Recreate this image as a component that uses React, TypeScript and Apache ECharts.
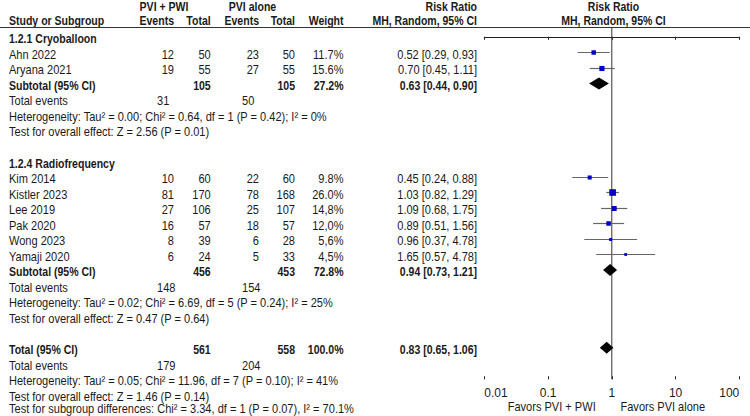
import React, { useEffect, useRef } from "react";
import * as echarts from "echarts";

// ---------- DATA ----------
const groupNames = ["1.2.1 Cryoballoon", "1.2.4 Radiofrequency"];
const studyNames = ["Ahn 2022", "Aryana 2021", "Kim 2014", "Kistler 2023", "Lee 2019", "Pak 2020", "Wong 2023", "Yamaji 2020"];
const studyGroup = [0, 0, 1, 1, 1, 1, 1, 1];
const eventsPWI = [12, 19, 10, 81, 27, 16, 8, 6];
const totalPWI = [50, 55, 60, 170, 106, 57, 39, 24];
const eventsAlone = [23, 27, 22, 78, 25, 18, 6, 5];
const totalAlone = [50, 55, 60, 168, 107, 57, 28, 33];
const weights = [11.7, 15.6, 9.8, 26.0, 14.8, 12.0, 5.6, 4.5];
const weightLabels = ["11.7%", "15.6%", "9.8%", "26.0%", "14,8%", "12,0%", "5,6%", "4,5%"];
const riskRatio = [0.52, 0.7, 0.45, 1.03, 1.09, 0.89, 0.96, 1.65];
const ciLow = [0.29, 0.45, 0.24, 0.82, 0.68, 0.51, 0.37, 0.57];
const ciHigh = [0.93, 1.11, 0.88, 1.29, 1.75, 1.56, 2.49, 4.78];
const ciLabels = ["0.52 [0.29, 0.93]", "0.70 [0.45, 1.11]", "0.45 [0.24, 0.88]", "1.03 [0.82, 1.29]", "1.09 [0.68, 1.75]", "0.89 [0.51, 1.56]", "0.96 [0.37, 4.78]", "1.65 [0.57, 4.78]"];

const subRR = [0.63, 0.94];
const subLow = [0.44, 0.73];
const subHigh = [0.9, 1.21];
const subLabels = ["0.63 [0.44, 0.90]", "0.94 [0.73, 1.21]"];
const subTotalPWI = [105, 456];
const subTotalAlone = [105, 453];
const subWeight = ["27.2%", "72.8%"];
const subEventsPWI = [31, 148];
const subEventsAlone = [50, 154];
const subHeterogeneity = [
  "Heterogeneity: Tau² = 0.00; Chi² = 0.64, df = 1 (P = 0.42); I² = 0%",
  "Heterogeneity: Tau² = 0.02; Chi² = 6.69, df = 5 (P = 0.24); I² = 25%",
];
const subTest = ["Test for overall effect: Z = 2.56 (P = 0.01)", "Test for overall effect: Z = 0.47 (P = 0.64)"];

const totalRR = 0.83;
const totalLow = 0.65;
const totalHigh = 1.06;
const totalLabel = "0.83 [0.65, 1.06]";
const totalNPWI = 561;
const totalNAlone = 558;
const totalWeight = "100.0%";
const totalEventsPWI = 179;
const totalEventsAlone = 204;
const totalHeterogeneity = "Heterogeneity: Tau² = 0.05; Chi² = 11.96, df = 7 (P = 0.10); I² = 41%";
const totalTest = "Test for overall effect: Z = 1.46 (P = 0.14)";
const subgroupTest = "Test for subgroup differences: Chi² = 3.34, df = 1 (P = 0.07), I² = 70.1%";

const tickLabels = ["0.01", "0.1", "1", "10", "100"];
const favorsLeft = "Favors PVI + PWI";
const favorsRight = "Favors PVI alone";

// ---------- LAYOUT ----------
const FONT = '"Liberation Sans", Arial, sans-serif';
const FS = 13;
const SX_REG = 0.85;
const SX_BOLD = 0.81;
const COLOR = "#1a1a1a";
const X_NAME = 9;
const X_EV1 = 174;
const X_TOT1 = 210.7;
const X_EV2 = 259;
const X_TOT2 = 295;
const X_W = 343.5;
const X_CI = 477;
const X_TE1 = 157;
const X_TE2 = 242;
const rowY = (k: number) => 38.8 + 15.55 * k;

function txt(x: number, y: number, text: string, align: string, bold = false) {
  return {
    type: "text",
    x,
    y,
    scaleX: bold ? SX_BOLD : SX_REG,
    silent: true,
    style: {
      text,
      fontFamily: FONT,
      fontSize: FS,
      fontWeight: bold ? "bold" : "normal",
      fill: COLOR,
      align,
      verticalAlign: "middle",
    },
  };
}

export default function App() {
  const ref = useRef<HTMLDivElement>(null);
  useEffect(() => {
    if (!ref.current) return;
    const chart = echarts.init(ref.current, undefined, { renderer: "svg" });

    const graphics: any[] = [];
    // headers
    graphics.push(txt(164, 6.5, "PVI + PWI", "center", true));
    graphics.push(txt(252.5, 6.5, "PVI alone", "center", true));
    graphics.push(txt(X_CI, 6.5, "Risk Ratio", "right", true));
    graphics.push(txt(613.5, 6.5, "Risk Ratio", "center", true));
    graphics.push(txt(X_NAME, 21, "Study or Subgroup", "left", true));
    graphics.push(txt(X_EV1, 21, "Events", "right", true));
    graphics.push(txt(X_TOT1, 21, "Total", "right", true));
    graphics.push(txt(X_EV2, 21, "Events", "right", true));
    graphics.push(txt(X_TOT2, 21, "Total", "right", true));
    graphics.push(txt(X_W, 21, "Weight", "right", true));
    graphics.push(txt(X_CI, 21, "MH, Random, 95% CI", "right", true));
    graphics.push(txt(613.5, 21, "MH, Random, 95% CI", "center", true));
    graphics.push({
      type: "line",
      silent: true,
      shape: { x1: 0, y1: 27.5, x2: 750, y2: 27.5 },
      style: { stroke: "#333", lineWidth: 1 },
    });

    const plotData: any[] = [];
    let row = 0;
    groupNames.forEach((g, gi) => {
      graphics.push(txt(X_NAME, rowY(row), g, "left", true));
      row++;
      studyNames.forEach((s, i) => {
        if (studyGroup[i] !== gi) return;
        const y = rowY(row);
        graphics.push(txt(X_NAME, y, s, "left"));
        graphics.push(txt(X_EV1, y, String(eventsPWI[i]), "right"));
        graphics.push(txt(X_TOT1, y, String(totalPWI[i]), "right"));
        graphics.push(txt(X_EV2, y, String(eventsAlone[i]), "right"));
        graphics.push(txt(X_TOT2, y, String(totalAlone[i]), "right"));
        graphics.push(txt(X_W, y, weightLabels[i], "right"));
        graphics.push(txt(X_CI, y, ciLabels[i], "right"));
        plotData.push([riskRatio[i], ciLow[i], ciHigh[i], row, 1.3 * Math.sqrt(weights[i]), 0]);
        row++;
      });
      let y = rowY(row);
      graphics.push(txt(X_NAME, y, "Subtotal (95% CI)", "left", true));
      graphics.push(txt(X_TOT1, y, String(subTotalPWI[gi]), "right", true));
      graphics.push(txt(X_TOT2, y, String(subTotalAlone[gi]), "right", true));
      graphics.push(txt(X_W, y, subWeight[gi], "right", true));
      graphics.push(txt(X_CI, y, subLabels[gi], "right", true));
      plotData.push([subRR[gi], subLow[gi], subHigh[gi], row, 0, 1]);
      row++;
      y = rowY(row);
      graphics.push(txt(X_NAME, y, "Total events", "left"));
      graphics.push(txt(X_TE1, y, String(subEventsPWI[gi]), "left"));
      graphics.push(txt(X_TE2, y, String(subEventsAlone[gi]), "left"));
      row++;
      graphics.push(txt(X_NAME, rowY(row), subHeterogeneity[gi], "left"));
      row++;
      graphics.push(txt(X_NAME, rowY(row), subTest[gi], "left"));
      row++;
      row++;
    });
    let y = rowY(row);
    graphics.push(txt(X_NAME, y, "Total (95% CI)", "left", true));
    graphics.push(txt(X_TOT1, y, String(totalNPWI), "right", true));
    graphics.push(txt(X_TOT2, y, String(totalNAlone), "right", true));
    graphics.push(txt(X_W, y, totalWeight, "right", true));
    graphics.push(txt(X_CI, y, totalLabel, "right", true));
    plotData.push([totalRR, totalLow, totalHigh, row, 0, 1]);
    row++;
    y = rowY(row);
    graphics.push(txt(X_NAME, y, "Total events", "left"));
    graphics.push(txt(X_TE1, y, String(totalEventsPWI), "left"));
    graphics.push(txt(X_TE2, y, String(totalEventsAlone), "left"));
    row++;
    graphics.push(txt(X_NAME, rowY(row), totalHeterogeneity, "left"));
    row++;
    graphics.push(txt(X_NAME, rowY(row), totalTest, "left"));
    row++;
    graphics.push(txt(X_NAME, rowY(row) - 3, subgroupTest, "left"));

    graphics.push(txt(551.7, 407, favorsLeft, "center"));
    graphics.push(txt(662.8, 407, favorsRight, "center"));

    const yMin = -0.563;
    const yMax = 22.03;

    const axisCommon = {
      type: "log",
      logBase: 10,
      min: 0.01,
      max: 100,
      position: "bottom",
      splitLine: { show: false },
    };

    chart.setOption({
      animation: false,
      backgroundColor: "#ffffff",
      grid: { left: 484.3, width: 255, top: 28, height: 351.3, containLabel: false },
      xAxis: [
        {
          ...axisCommon,
          axisLine: { show: true, lineStyle: { color: "#222", width: 1 } },
          axisTick: { show: true, inside: false, length: 3, lineStyle: { color: "#222" } },
          axisLabel: {
            show: true,
            margin: 8,
            fontFamily: FONT,
            fontSize: 12,
            color: COLOR,
            alignMinLabel: "left",
            alignMaxLabel: "right",
            formatter: (v: number) => tickLabels[Math.round(Math.log10(v)) + 2],
          },
        },
        {
          ...axisCommon,
          axisLine: { show: false },
          axisTick: { show: true, inside: true, length: 3, lineStyle: { color: "#222" } },
          axisLabel: { show: false },
        },
      ],
      yAxis: { type: "value", inverse: true, min: yMin, max: yMax, show: false },
      series: [
        {
          type: "line",
          xAxisIndex: 0,
          data: [
            [1, yMin],
            [1, yMax],
          ],
          symbol: "none",
          lineStyle: { color: "#333", width: 1 },
          silent: true,
          z: 1,
        },
        {
          type: "custom",
          xAxisIndex: 0,
          z: 5,
          silent: true,
          encode: { x: [0, 1, 2], y: 3 },
          data: plotData,
          renderItem: (params: any, api: any) => {
            const kind = api.value(5);
            const r = api.value(3);
            const c = api.coord([api.value(0), r]);
            const l = api.coord([api.value(1), r]);
            const h = api.coord([api.value(2), r]);
            if (kind === 1) {
              return {
                type: "polygon",
                shape: {
                  points: [
                    [l[0], c[1]],
                    [c[0], c[1] - 6],
                    [h[0], c[1]],
                    [c[0], c[1] + 6],
                  ],
                },
                style: { fill: "#000" },
              };
            }
            const s = api.value(4);
            const yy = Math.round(c[1]) + 0.5;
            return {
              type: "group",
              children: [
                {
                  type: "line",
                  shape: { x1: l[0], y1: yy, x2: h[0], y2: yy },
                  style: { stroke: "#666", lineWidth: 1.2 },
                },
                {
                  type: "rect",
                  shape: { x: c[0] - s / 2, y: yy - s / 2, width: s, height: s },
                  style: { fill: "#0000cc" },
                },
              ],
            };
          },
        },
      ],
      graphic: graphics,
    });
    return () => chart.dispose();
  }, []);
  return (
    <div
      ref={ref}
      style={{ position: "fixed", left: 0, top: 0, width: 750, height: 416, background: "#fff" }}
    />
  );
}
